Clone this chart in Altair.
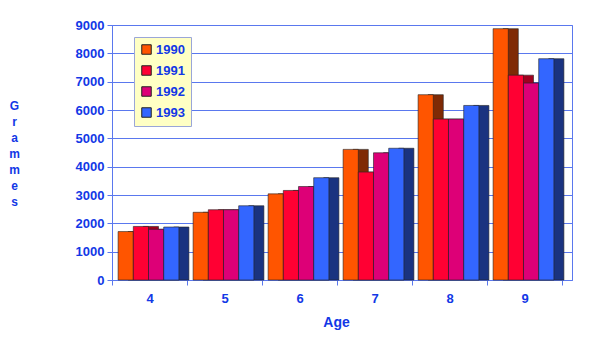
import altair as alt
import pandas as pd

ages = ["4", "5", "6", "7", "8", "9"]
years = ["1990", "1991", "1992", "1993"]
v1990 = [1710, 2390, 3040, 4610, 6540, 8870]
v1991 = [1890, 2480, 3160, 3810, 5680, 7230]
v1992 = [1790, 2480, 3300, 4490, 5680, 6950]
v1993 = [1870, 2620, 3610, 4650, 6160, 7810]

series = {"1990": v1990, "1991": v1991, "1992": v1992, "1993": v1993}
rows = []
for y in years:
    for a, v in zip(ages, series[y]):
        rows.append({"Age": a, "Year": y, "Grammes": v})
df = pd.DataFrame(rows)

front_colors = ["#ff5500", "#ff0033", "#dd0077", "#3366ff"]
side_colors = ["#7f2a05", "#a0001f", "#8c004a", "#1a3380"]

BLUE = "#1238e6"
GRID = "#5a78ee"
FONT = "Liberation Sans"

x_enc = alt.X(
    "Age:N",
    sort=ages,
    scale=alt.Scale(paddingInner=0, paddingOuter=0.0667, align=0),
    axis=alt.Axis(
        title="Age",
        labelAngle=0,
        tickBand="extent",
        grid=False,
        tickSize=5,
        labelPadding=7,
        titleX=224,
        titleY=46,
        titleBaseline="alphabetic",
    ),
)
y_enc = alt.Y(
    "Grammes:Q",
    scale=alt.Scale(domain=[0, 9000], nice=False),
    axis=alt.Axis(
        values=list(range(0, 9001, 1000)),
        format="d",
        title=list("Grammes"),
        titleAngle=0,
        titleAlign="center",
        titleBaseline="top",
        titleX=-98,
        titleY=75,
        titleLineHeight=16,
        titleFontSize=12,
        tickSize=5,
        labelPadding=3,
    ),
)

side = alt.Chart(df).mark_bar(stroke="#222222", strokeWidth=0.6).encode(
    x=x_enc,
    y=y_enc,
    xOffset=alt.XOffset(
        "Year:N",
        sort=years,
        scale=alt.Scale(range=[16.1, 76.9], paddingInner=0, paddingOuter=0),
    ),
    color=alt.Color(
        "Year:N", scale=alt.Scale(domain=years, range=side_colors), legend=None
    ),
)

front = alt.Chart(df).mark_bar(stroke="#222222", strokeWidth=0.6).encode(
    x=x_enc,
    y=y_enc,
    xOffset=alt.XOffset(
        "Year:N",
        sort=years,
        scale=alt.Scale(range=[6.1, 66.9], paddingInner=0, paddingOuter=0),
    ),
    color=alt.Color(
        "Year:N",
        scale=alt.Scale(domain=years, range=front_colors),
        legend=alt.Legend(
            title=None,
            orient="none",
            legendX=22,
            legendY=12,
            fillColor="#ffffc4",
            strokeColor="#9aa6d8",
            padding=6,
            symbolType="square",
            symbolSize=90,
            symbolStrokeColor="#222222",
            symbolStrokeWidth=1,
            symbolOpacity=1,
            rowPadding=6,
            labelFontSize=13,
            labelFontWeight="bold",
            labelColor=BLUE,
            labelFont=FONT,
            labelOffset=3,
        ),
    ),
)

chart = (
    alt.layer(side, front)
    .resolve_scale(color="independent", xOffset="independent")
    .properties(
        width=460,
        height=255,
        autosize=alt.AutoSizeParams(type="none"),
        padding={"left": 112, "top": 25, "right": 28, "bottom": 72},
        background="white",
    )
    .configure_view(stroke=GRID, strokeWidth=1)
    .configure_axis(
        labelFont=FONT,
        titleFont=FONT,
        labelFontSize=13,
        labelFontWeight="bold",
        labelColor=BLUE,
        titleColor=BLUE,
        titleFontWeight="bold",
        titleFontSize=14,
        domainColor=GRID,
        tickColor=GRID,
        gridColor=GRID,
        gridOpacity=1,
        gridWidth=1,
    )
)

chart.save("out.html", embed_options={"renderer": "svg", "actions": False})
